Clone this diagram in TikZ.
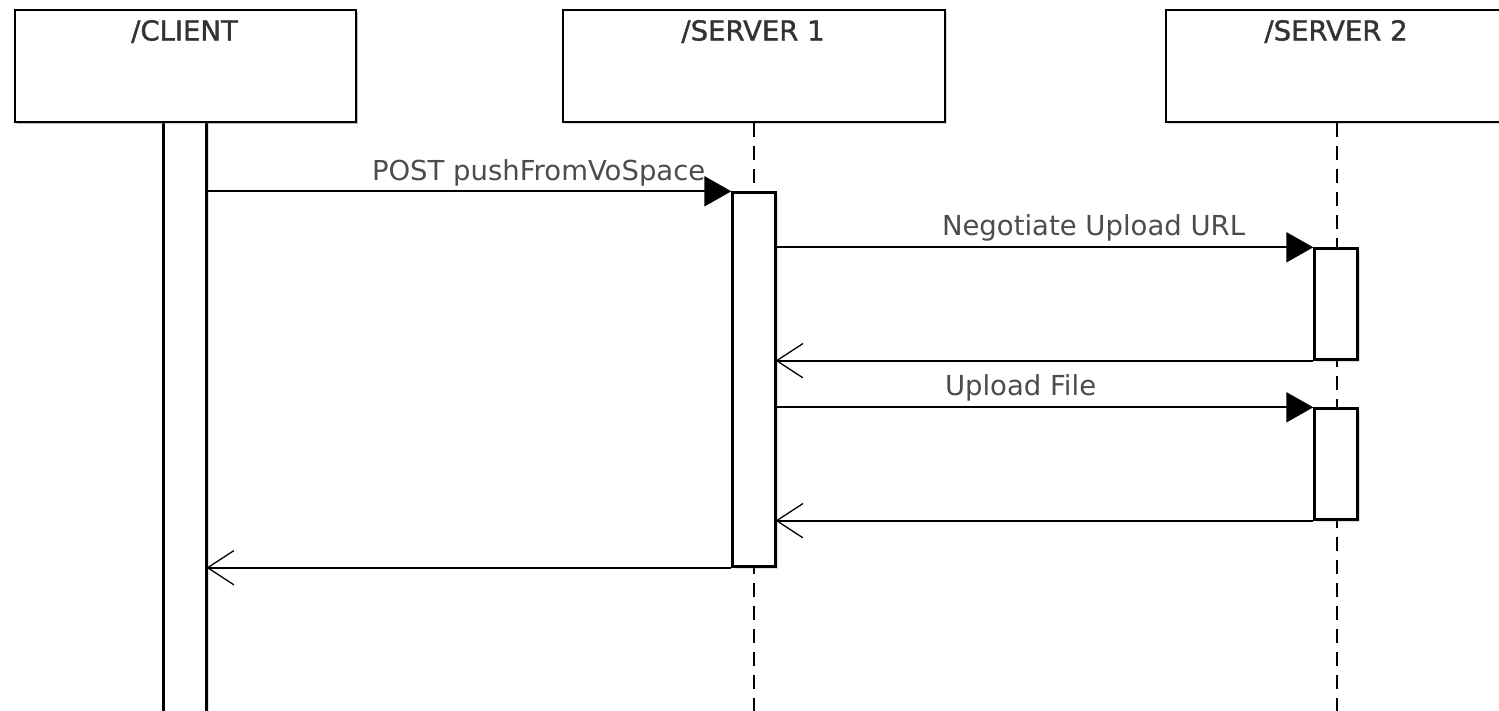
\documentclass[tikz,border=0pt]{standalone}
\usepackage{fontspec}
\setmainfont{DejaVu Sans}
\newfontface\hdrfont{DejaVu Sans}[FakeBold=1.3]
\usetikzlibrary{arrows.meta,shadows}

\begin{document}
\begin{tikzpicture}[x=1pt,y=-1pt,
  hdr/.style={inner sep=0pt, outer sep=0pt, text=black!80,
    font=\hdrfont\fontsize{27.5}{30}\selectfont},
  msg/.style={inner sep=0pt, outer sep=0pt, text=black!70,
    font=\fontsize{27.5}{30}\selectfont},
  lifebox/.style={draw=black, line width=2.4pt, fill=white, rectangle,
    minimum height=112pt, inner sep=0pt,
    drop shadow={shadow xshift=2pt, shadow yshift=-2pt, opacity=0.3}},
  actbar/.style={draw=black, line width=2.4pt, fill=white, rectangle,
    inner sep=0pt, minimum width=43pt,
    drop shadow={shadow xshift=2pt, shadow yshift=-2pt, opacity=0.25}},
  lifeline/.style={line width=2.4pt, dash pattern=on 14pt off 9pt},
  call/.style={line width=2.2pt, -{Triangle[length=27pt,width=30pt]}},
  reply/.style={line width=2.2pt},
  barb/.style={line width=1.3pt, line cap=round},
]
\useasboundingbox (0,0) rectangle (1499,710);
\clip (0,0) rectangle (1499,710);

% participant heads
\node[lifebox, minimum width=341pt] (client)  at (185.5,66) {};
\node[lifebox, minimum width=382pt] (server1) at (754,66) {};
\node[lifebox, minimum width=342pt] (server2) at (1337,66) {};

% lifelines
\coordinate (s1end) at (754,730);
\coordinate (s2end) at (1337,730);
\draw[lifeline] (server1.south) -- (s1end);
\draw[lifeline] (server2.south) -- (s2end);

% activation bars
\node[actbar, minimum height=608pt] (cact)  at (185,426) {};
\node[actbar, minimum height=374pt] (s1act) at (754,379.5) {};
\node[actbar, minimum height=111pt] (s2a)   at (1336,304) {};
\node[actbar, minimum height=111pt] (s2b)   at (1336,464) {};

% redraw the client head over the bar top
\node[lifebox, minimum width=341pt] at (185.5,66) {};
\node[hdr, anchor=base] (clientlbl)  at (184.5,40.5) {/CLIENT};
\node[hdr, anchor=base] (server1lbl) at (753,40.5) {/SERVER 1};
\node[hdr, anchor=base] (server2lbl) at (1336,40.5) {/SERVER 2};

% calls
\draw[call] (cact.east |- s1act.north) -- (s1act.north west);
\draw[call] (s1act.east |- s2a.north) -- (s2a.north west);
\draw[call] (s1act.east |- s2b.north) -- (s2b.north west);

% replies with open arrow heads
\coordinate (r1) at (s1act.east |- s2a.south);
\coordinate (r2) at (s1act.east |- s2b.south);
\coordinate (r3) at (cact.east |- s1act.south);
\draw[reply] (s2a.south west) -- (r1);
\draw[reply] (s2b.south west) -- (r2);
\draw[reply] (s1act.south west) -- (r3);
\foreach \r in {r1,r2,r3}{
  \draw[barb] (\r) -- ++(26,-17) (\r) -- ++(26,17);
}

% message labels
\node[msg, anchor=base west] (m1lbl) at (372,180) {POST pushFromVoSpace};
\node[msg, anchor=base west] (m2lbl) at (942,235) {Negotiate Upload URL};
\node[msg, anchor=base west] (m3lbl) at (945,395) {Upload File};
\end{tikzpicture}
\end{document}
